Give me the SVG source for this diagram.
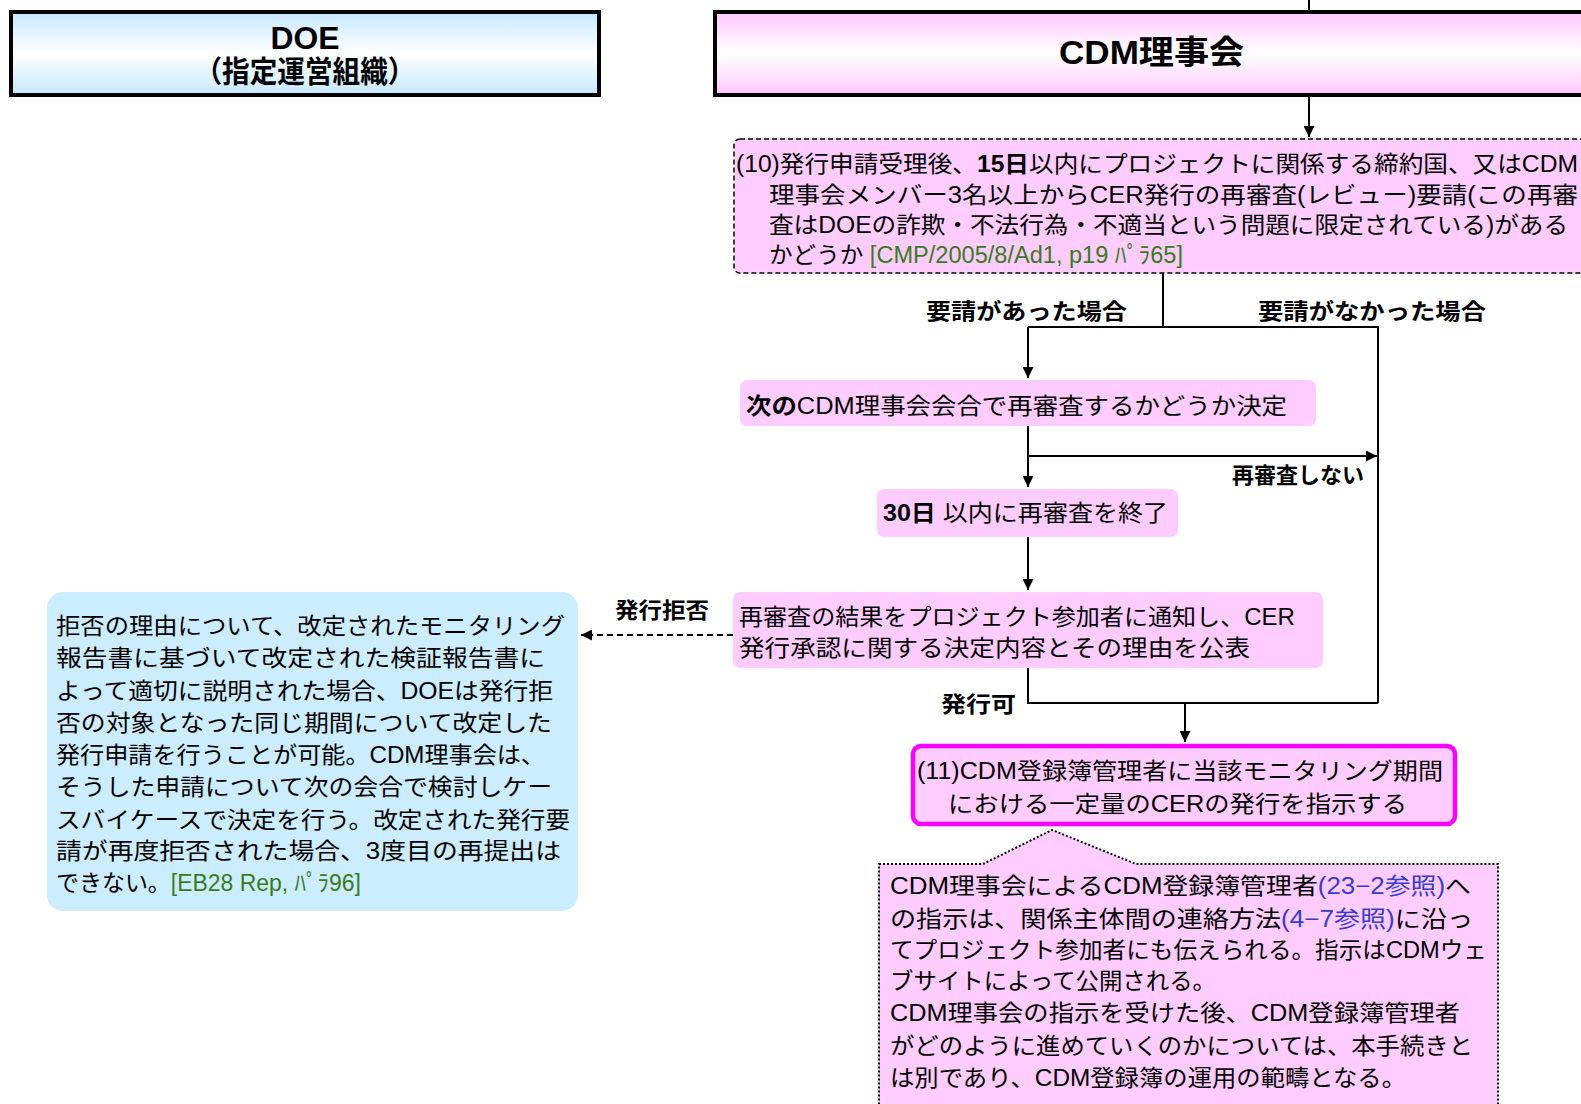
<svg xmlns="http://www.w3.org/2000/svg" width="1581" height="1104" viewBox="0 0 1581 1104">
<defs>
<linearGradient id="gBlue" x1="0" y1="0" x2="0" y2="1"><stop offset="0" stop-color="#C6E8FF"/><stop offset="0.5" stop-color="#FFFFFF"/><stop offset="1" stop-color="#C6E8FF"/></linearGradient>
<linearGradient id="gPink" x1="0" y1="0" x2="0" y2="1"><stop offset="0" stop-color="#FFC8FF"/><stop offset="0.5" stop-color="#FFFFFF"/><stop offset="1" stop-color="#FFC8FF"/></linearGradient>
<marker id="ah" viewBox="0 0 10 10" refX="10" refY="5" markerWidth="11" markerHeight="11" markerUnits="userSpaceOnUse" orient="auto"><path d="M0,0 L10,5 L0,10 Z" fill="#000"/></marker>
</defs>
<style>
text{font-family:"Liberation Sans","Noto Sans CJK JP",sans-serif;fill:#000}
.t{font-size:23px}
.b{font-weight:bold}
.lbl{font-size:22px;font-weight:bold}
.g{fill:#3A7A1E}
.u{fill:#3A3ACC}
.ln{fill:none;stroke:#000;stroke-width:2}
.pk{fill:#FFCCFF}
</style>
<rect width="1581" height="1104" fill="#fff"/>
<g id="connectors">
<path class="ln" d="M1309,0 V10"/>
<path class="ln" d="M1309,97 V137" marker-end="url(#ah)"/>
<path class="ln" d="M1163,273 V327"/>
<path class="ln" d="M1028,327 H1378 V703"/>
<path class="ln" d="M1028,327 V378" marker-end="url(#ah)"/>
<path class="ln" d="M1028,426 V487" marker-end="url(#ah)"/>
<path class="ln" d="M1028,456 H1377" marker-end="url(#ah)"/>
<path class="ln" d="M1028,537 V590" marker-end="url(#ah)"/>
<path class="ln" d="M733,635 H581" stroke-dasharray="6,4" marker-end="url(#ah)"/>
<path class="ln" d="M1028,668 V703 H1378"/>
<path class="ln" d="M1185,703 V742" marker-end="url(#ah)"/>
<text class="lbl" x="926" y="319" textLength="201" lengthAdjust="spacingAndGlyphs">要請があった場合</text>
<text class="lbl" x="1258" y="319" textLength="228" lengthAdjust="spacingAndGlyphs">要請がなかった場合</text>
<text class="lbl" x="1232" y="483" textLength="132" lengthAdjust="spacingAndGlyphs">再審査しない</text>
<text class="lbl" x="615" y="618" textLength="94" lengthAdjust="spacingAndGlyphs">発行拒否</text>
<text class="lbl" x="941" y="712" textLength="75" lengthAdjust="spacingAndGlyphs">発行可</text>
</g>
<g id="doe-header">
<rect x="11" y="12" width="588" height="83" fill="url(#gBlue)" stroke="#000" stroke-width="4"/>
<text x="305" y="49" text-anchor="middle" font-size="31" class="b" textLength="69" lengthAdjust="spacingAndGlyphs">DOE</text>
<text x="305" y="82" text-anchor="middle" font-size="30" class="b" textLength="221" lengthAdjust="spacingAndGlyphs">（指定運営組織）</text>
</g>
<g id="cdm-header">
<rect x="715" y="12" width="880" height="83" fill="url(#gPink)" stroke="#000" stroke-width="4"/>
<text x="1059" y="64" font-size="33" class="b" textLength="185" lengthAdjust="spacingAndGlyphs">CDM理事会</text>
</g>
<g id="n10">
<rect x="734" y="139" width="870" height="134" rx="6" class="pk" stroke="#000" stroke-width="1.5" stroke-dasharray="5,3"/>
<text class="t" x="736" y="172" textLength="842" lengthAdjust="spacingAndGlyphs">(10)発行申請受理後、<tspan class="b">15日</tspan>以内にプロジェクトに関係する締約国、又はCDM</text>
<text class="t" x="769" y="203" textLength="809" lengthAdjust="spacingAndGlyphs">理事会メンバー3名以上からCER発行の再審査(レビュー)要請(この再審</text>
<text class="t" x="769" y="233" textLength="799" lengthAdjust="spacingAndGlyphs">査はDOEの詐欺・不法行為・不適当という問題に限定されている)がある</text>
<text class="t" x="769" y="263" textLength="414" lengthAdjust="spacingAndGlyphs">かどうか <tspan class="g">[CMP/2005/8/Ad1, p19 ﾊﾟﾗ65]</tspan></text>
</g>
<g id="n-decide">
<rect x="740" y="380" width="576" height="46" rx="7" class="pk"/>
<text class="t" x="746" y="414" textLength="541" lengthAdjust="spacingAndGlyphs"><tspan class="b">次の</tspan>CDM理事会会合で再審査するかどうか決定</text>
</g>
<g id="n-30days">
<rect x="877" y="489" width="301" height="48" rx="7" class="pk"/>
<text class="t" x="883" y="521" textLength="285" lengthAdjust="spacingAndGlyphs"><tspan class="b">30日</tspan> 以内に再審査を終了</text>
</g>
<g id="n-notify">
<rect x="733" y="592" width="590" height="76" rx="7" class="pk"/>
<text class="t" x="739" y="625" textLength="556" lengthAdjust="spacingAndGlyphs">再審査の結果をプロジェクト参加者に通知し、CER</text>
<text class="t" x="739" y="656" textLength="511" lengthAdjust="spacingAndGlyphs">発行承認に関する決定内容とその理由を公表</text>
</g>
<g id="n-reject">
<rect x="47" y="592" width="531" height="319" rx="16" fill="#CCECFF"/>
<text class="t" x="56" y="634" textLength="509" lengthAdjust="spacingAndGlyphs">拒否の理由について、改定されたモニタリング</text>
<text class="t" x="56" y="666" textLength="489" lengthAdjust="spacingAndGlyphs">報告書に基づいて改定された検証報告書に</text>
<text class="t" x="56" y="699" textLength="497" lengthAdjust="spacingAndGlyphs">よって適切に説明された場合、DOEは発行拒</text>
<text class="t" x="56" y="731" textLength="496" lengthAdjust="spacingAndGlyphs">否の対象となった同じ期間について改定した</text>
<text class="t" x="56" y="763" textLength="489" lengthAdjust="spacingAndGlyphs">発行申請を行うことが可能。CDM理事会は、</text>
<text class="t" x="56" y="795" textLength="496" lengthAdjust="spacingAndGlyphs">そうした申請について次の会合で検討しケー</text>
<text class="t" x="56" y="828" textLength="514" lengthAdjust="spacingAndGlyphs">スバイケースで決定を行う。改定された発行要</text>
<text class="t" x="56" y="859" textLength="505" lengthAdjust="spacingAndGlyphs">請が再度拒否された場合、3度目の再提出は</text>
<text class="t" x="56" y="891" textLength="305" lengthAdjust="spacingAndGlyphs">できない。<tspan class="g">[EB28 Rep, ﾊﾟﾗ96]</tspan></text>
</g>
<g id="n11">
<rect x="913" y="746" width="542" height="78" rx="8" class="pk" stroke="#FF00FF" stroke-width="4.5"/>
<text class="t" x="917" y="779" textLength="526" lengthAdjust="spacingAndGlyphs">(11)CDM登録簿管理者に当該モニタリング期間</text>
<text class="t" x="948" y="812" textLength="459" lengthAdjust="spacingAndGlyphs">における一定量のCERの発行を指示する</text>
</g>
<g id="n-note">
<path d="M879,864 H983 L1052,830 L1136,864 H1498 V1112 H879 Z" class="pk" stroke="#000" stroke-width="2" stroke-dasharray="2,2"/>
<text class="t" x="890" y="894" textLength="581" lengthAdjust="spacingAndGlyphs">CDM理事会によるCDM登録簿管理者<tspan class="u">(23−2参照)</tspan>へ</text>
<text class="t" x="890" y="927" textLength="583" lengthAdjust="spacingAndGlyphs">の指示は、関係主体間の連絡方法<tspan class="u">(4−7参照)</tspan>に沿っ</text>
<text class="t" x="890" y="958" textLength="597" lengthAdjust="spacingAndGlyphs">てプロジェクト参加者にも伝えられる。指示はCDMウェ</text>
<text class="t" x="890" y="989" textLength="326" lengthAdjust="spacingAndGlyphs">ブサイトによって公開される。</text>
<text class="t" x="890" y="1021" textLength="570" lengthAdjust="spacingAndGlyphs">CDM理事会の指示を受けた後、CDM登録簿管理者</text>
<text class="t" x="890" y="1054" textLength="583" lengthAdjust="spacingAndGlyphs">がどのように進めていくのかについては、本手続きと</text>
<text class="t" x="890" y="1086" textLength="516" lengthAdjust="spacingAndGlyphs">は別であり、CDM登録簿の運用の範疇となる。</text>
</g>
</svg>
